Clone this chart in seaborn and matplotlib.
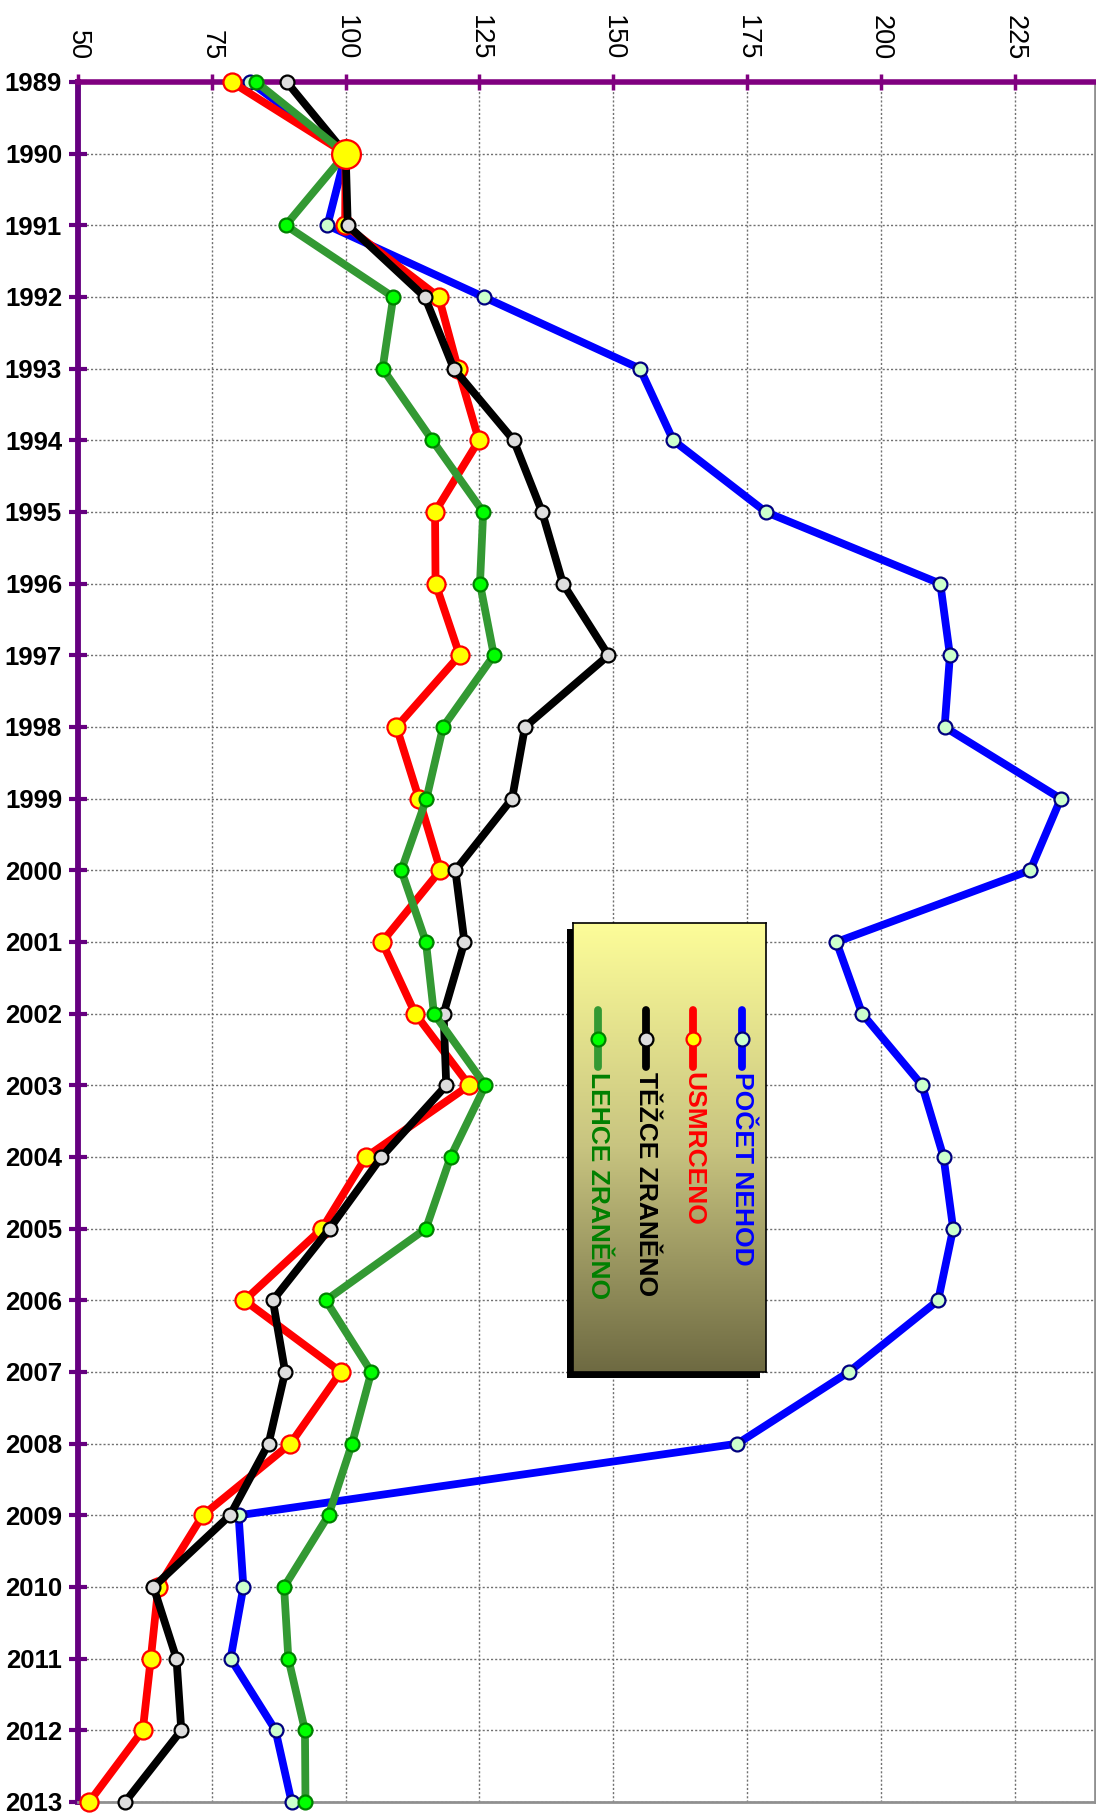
import numpy as np
import pandas as pd
import matplotlib
matplotlib.use("Agg")
import matplotlib.pyplot as plt
from matplotlib.patches import Rectangle
from matplotlib.colors import LinearSegmentedColormap
import seaborn as sns

# ---------------- data ----------------
years = list(range(1989, 2014))
pocet_nehod = [82.2, 100, 96.6, 125.8, 155.0, 161.2, 178.5, 211.1, 212.9, 211.9,
               233.6, 227.9, 191.7, 196.5, 207.7, 211.7, 213.5, 210.7, 194.0, 173.2,
               80.0, 80.9, 78.5, 86.9, 89.9]
usmrceno = [78.7, 100, 99.9, 117.4, 121.0, 124.9, 116.7, 116.8, 121.3, 109.5,
            113.7, 117.7, 106.8, 113.0, 123.1, 103.8, 95.6, 81.1, 99.1, 89.7,
            73.3, 65.0, 63.6, 62.1, 52.1]
tezce = [89.0, 100, 100.4, 114.8, 120.2, 131.4, 136.7, 140.6, 149.1, 133.5,
         131.1, 120.5, 122.2, 118.3, 118.8, 106.7, 97.0, 86.4, 88.7, 85.6,
         78.4, 64.1, 68.4, 69.3, 58.8]
lehce = [83.3, 100, 88.8, 108.9, 106.9, 116.2, 125.7, 125.1, 127.7, 118.2,
         115.1, 110.4, 115.0, 116.5, 126.1, 119.6, 115.0, 96.3, 104.8, 101.2,
         96.8, 88.5, 89.3, 92.4, 92.5]
series_names = ["POČET NEHOD", "USMRCENO", "TĚŽCE ZRANĚNO", "LEHCE ZRANĚNO"]
value_ticks = [50, 75, 100, 125, 150, 175, 200, 225]
base_year = 1990

# ---------------- style ----------------
sns.set_theme(style="white")
plt.rcParams["font.family"] = ["Liberation Sans", "DejaVu Sans"]

W, H = 1096, 1814
fig = plt.figure(figsize=(W / 100, H / 100), dpi=100)
fig.patch.set_facecolor("white")

ax_l, ax_r, ax_t, ax_b = 78, 1095, 82, 1802
ax = fig.add_axes([ax_l / W, 1 - ax_b / H, (ax_r - ax_l) / W, (ax_b - ax_t) / H])
ax.set_facecolor("white")

styles = [
    dict(data=pocet_nehod, color="#0000FF", mfc="#CCFFCC", mec="#000080", ms=10, z=3),
    dict(data=usmrceno, color="#FF0000", mfc="#FFFF00", mec="#FF0000", ms=13, z=4),
    dict(data=tezce, color="#000000", mfc="#DDDDDD", mec="#000000", ms=10, z=5),
    dict(data=lehce, color="#339933", mfc="#00FF00", mec="#008000", ms=10, z=6),
]

for st, name in zip(styles, series_names):
    df = pd.DataFrame({"year": years, "value": st["data"]})
    sns.lineplot(data=df, x="value", y="year", orient="y", ax=ax, errorbar=None,
                 color=st["color"], lw=5.6, marker="o", ms=st["ms"],
                 mfc=st["mfc"], mec=st["mec"], mew=1.6, zorder=st["z"],
                 clip_on=False, legend=False)

# highlighted base-year point
bi = years.index(base_year)
sns.scatterplot(x=[usmrceno[bi]], y=[years[bi]], ax=ax, s=430, color="#FFFF00",
                edgecolor="#FF0000", linewidth=1.6, zorder=8, clip_on=False, legend=False)

ax.set_xlim(50, 240)
ax.set_ylim(2013, 1989)
ax.set_xlabel("")
ax.set_ylabel("")

# x axis on top, rotated labels
ax.xaxis.tick_top()
ax.set_xticks(value_ticks)
ax.set_xticklabels([str(v) for v in value_ticks])
ax.tick_params(axis="x", which="major", direction="inout", length=11.5, width=2.5,
               color="#800080", pad=10, labelsize=19.5, labelrotation=-90,
               top=True, bottom=False, labeltop=True, labelbottom=False,
               labelcolor="black")

ax.set_yticks(years)
ax.set_yticklabels([str(y) for y in years], fontweight="bold", fontsize=18.5)
ax.tick_params(axis="y", which="major", direction="inout", length=13, width=3,
               color="#660080", pad=5, left=True, labelcolor="black")

ax.grid(True, color="#707070", linestyle=(0, (1.5, 1.5)), linewidth=1.0)
ax.set_axisbelow(True)

ax.spines["top"].set_color("#800080")
ax.spines["top"].set_linewidth(4)
ax.spines["left"].set_color("#660080")
ax.spines["left"].set_linewidth(4.2)
ax.spines["bottom"].set_color("#909090")
ax.spines["bottom"].set_linewidth(2)
ax.spines["right"].set_color("#909090")
ax.spines["right"].set_linewidth(2)
for s in ax.spines.values():
    s.set_visible(True)

# ---------------- rotated legend ----------------
bx0, bx1, by0, by1 = 573, 766, 923, 1372
sh = 6
shadow = Rectangle(((bx0 - sh) / W, 1 - (by1 + sh) / H), (bx1 - bx0) / W, (by1 - by0) / H,
                   transform=fig.transFigure, facecolor="black", edgecolor="none", zorder=1.5)
fig.add_artist(shadow)

lax = fig.add_axes([bx0 / W, 1 - by1 / H, (bx1 - bx0) / W, (by1 - by0) / H])
lax.set_zorder(2)
cmap = LinearSegmentedColormap.from_list("leg", ["#6E6A42", "#C8C480", "#FDFD99"])
grad = np.linspace(0, 1, 256).reshape(-1, 1)
lax.imshow(grad, aspect="auto", cmap=cmap, extent=[0, 1, 0, 1], origin="lower")
lax.set_xlim(0, 1)
lax.set_ylim(0, 1)
lax.set_xticks([])
lax.set_yticks([])
for s in lax.spines.values():
    s.set_color("black")
    s.set_linewidth(1.2)

bh = by1 - by0
y_l1 = 1 - (1010 - by0) / bh
y_l2 = 1 - (1067 - by0) / bh
y_m = 1 - (1039 - by0) / bh
y_txt = 1 - (1072 - by0) / bh
cols_px = [742, 693, 646, 598]
text_colors = ["#0000FF", "#FF0000", "#000000", "#008000"]
for st, name, cx, tc in zip(styles, series_names, cols_px, text_colors):
    xf = (cx - bx0) / (bx1 - bx0)
    lax.plot([xf, xf], [y_l1, y_l2], color=st["color"], lw=5.6, solid_capstyle="round")
    lax.plot([xf], [y_m], marker="o", ms=10, mfc=st["mfc"], mec=st["mec"], mew=1.6)
    lax.text(xf, y_txt, name, rotation=-90, ha="center", va="top", color=tc,
             fontsize=19, fontweight="bold", transform=lax.transAxes)

fig.savefig("out.png", dpi=100, facecolor="white")
